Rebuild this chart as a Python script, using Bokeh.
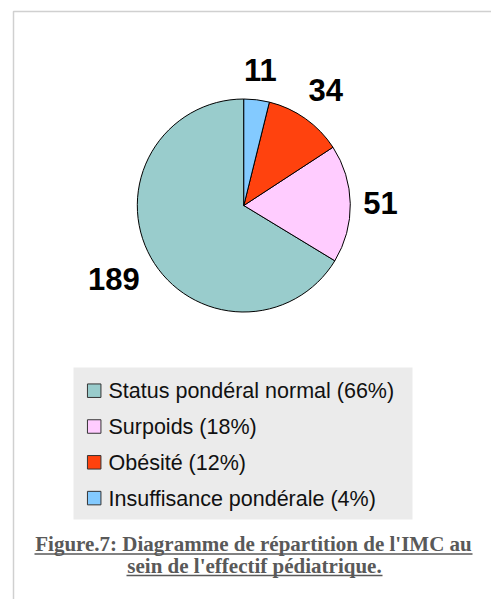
import math
from bokeh.plotting import figure
from bokeh.models import ColumnDataSource, Range1d
from bokeh.core.properties import value
from bokeh.embed import file_html
from bokeh.resources import INLINE

# ---- data ----
categories = ["Status pondéral normal", "Surpoids", "Obésité", "Insuffisance pondérale"]
counts = [189, 51, 34, 11]
percent_labels = ["66%", "18%", "12%", "4%"]
colors = ["#99CCCC", "#FFCCFF", "#FF420E", "#83CAFF"]
caption_lines = ["Figure.7: Diagramme de répartition de l'IMC au",
                 "sein de l'effectif pédiatrique."]

W, H = 491, 599
p = figure(width=W, height=H, output_backend="svg", toolbar_location=None,
           x_range=Range1d(0, W), y_range=Range1d(0, H),
           x_axis_location=None, y_axis_location=None,
           min_border=0, min_border_left=0, min_border_right=0,
           min_border_top=0, min_border_bottom=0)
p.grid.visible = False
p.outline_line_color = None
p.background_fill_color = "white"
p.border_fill_color = "white"

# frame lines (decorative)
p.line(x=[13, 13, W], y=[0, 588, 588], line_color="#d0d0d0", line_width=1.5)

# ---- pie ----
cx, cy, R = 243.3, 394.0, 106.5
total = sum(counts)
starts, ends, mids = [], [], []
acc = 0.0
for c in counts:
    a0 = 90 + acc * 360.0 / total
    acc += c
    a1 = 90 + acc * 360.0 / total
    starts.append(math.radians(a0))
    ends.append(math.radians(a1))
    mids.append((a0 + a1) / 2)

src = ColumnDataSource(dict(start=starts, end=ends, color=colors, cat=categories))
p.wedge(x=cx, y=cy, radius=R, start_angle="start", end_angle="end",
        direction="anticlock", fill_color="color",
        line_color="black", line_width=1, source=src)

# value labels outside the pie
fs = 31
lx, ly, lt = [], [], []
for c, m in zip(counts, mids):
    t = str(c)
    hw = len(t) * 0.556 * fs / 2
    hh = 15
    ca, sa = math.cos(math.radians(m)), math.sin(math.radians(m))
    d = R + 12.8 + abs(ca) * hw + abs(sa) * hh
    lx.append(cx + d * ca)
    ly.append(cy + d * sa)
    lt.append(t)
p.text(x=lx, y=ly, text=lt, text_align="center", text_baseline="middle",
       text_font=value("Liberation Sans"), text_font_style="bold",
       text_font_size=f"{fs}px", text_color="black")

# ---- legend ----
p.quad(left=73, right=412, bottom=80, top=232, fill_color="#EBEBEB", line_color=None)
row0, step = 208.8, 35.8
ys = [row0 - i * step for i in range(len(categories))]
p.rect(x=[93.7] * len(categories), y=ys, width=13.5, height=13.5,
       fill_color=colors, line_color="#333333", line_width=1)
leg_text = [f"{c} ({pc})" for c, pc in zip(categories, percent_labels)]
p.text(x=[108] * len(categories), y=[y - 0.5 for y in ys], text=leg_text,
       text_align="left", text_baseline="middle",
       text_font=value("Liberation Sans"), text_font_size="21.5px",
       text_color="#111111")

# ---- caption ----
cap_color = "#595959"
p.text(x=[253, 254], y=[55.5, 34], text=caption_lines, text_align="center",
       text_baseline="middle", text_font=value("Liberation Serif"),
       text_font_style="bold", text_font_size="21px", text_color=cap_color)
p.segment(x0=[34, 126], y0=[45.5, 24], x1=[472, 382], y1=[45.5, 24],
          line_color=cap_color, line_width=1.3)

open("out.html", "w").write(file_html(p, INLINE))
